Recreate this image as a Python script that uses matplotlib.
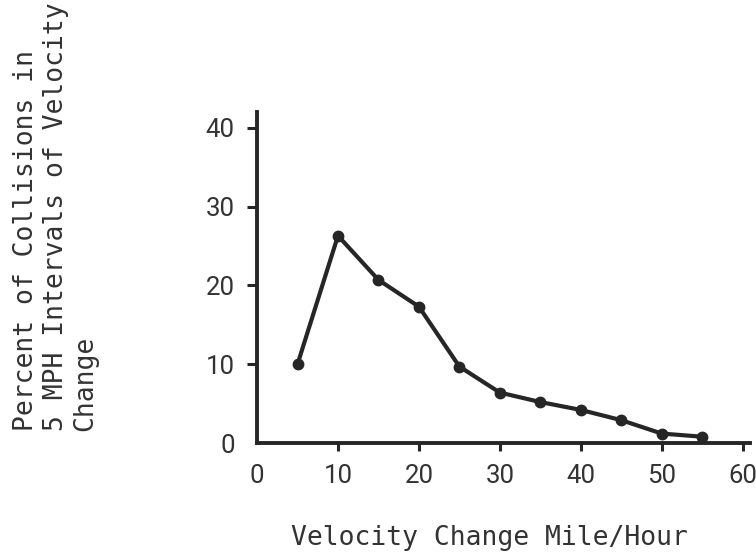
import matplotlib
matplotlib.use("Agg")
import matplotlib.pyplot as plt

# datos
velocidad = [5, 10, 15, 20, 25, 30, 35, 40, 45, 50, 55]
porcentaje = [10.0, 26.3, 20.7, 17.3, 9.7, 6.4, 5.2, 4.2, 2.9, 1.2, 0.8]
x_ticks = [0, 10, 20, 30, 40, 50, 60]
y_ticks = [0, 10, 20, 30, 40]
ylabel_lines = ["Percent of Collisions in", "5 MPH Intervals of Velocity", "Change"]
xlabel = "Velocity Change Mile/Hour"

color = "#262626"

fig = plt.figure(figsize=(7.56, 5.56), dpi=100)
ax = fig.add_axes([0.340, 0.2032, 0.652, 0.5953])

ax.plot(velocidad, porcentaje, color=color, linewidth=3.0, marker="o",
        markersize=7.5, markerfacecolor=color, markeredgecolor=color)

ax.set_xlim(0, 60.9)
ax.set_ylim(0, 42)
ax.set_xticks(x_ticks)
ax.set_yticks(y_ticks)

ax.spines["top"].set_visible(False)
ax.spines["right"].set_visible(False)
for s in ["left", "bottom"]:
    ax.spines[s].set_linewidth(2.8)
    ax.spines[s].set_color(color)

ax.tick_params(axis="x", direction="out", length=6, width=2.2, pad=9,
               colors=color, labelsize=18.5)
ax.tick_params(axis="y", direction="out", length=7, width=2.2, pad=9,
               colors=color, labelsize=18.5)
for lbl in ax.get_xticklabels() + ax.get_yticklabels():
    lbl.set_fontfamily(["Roboto", "DejaVu Sans"])
    lbl.set_color("#333333")

# sin marca en el origen
ax.xaxis.get_major_ticks()[0].tick1line.set_visible(False)
ax.yaxis.get_major_ticks()[0].tick1line.set_visible(False)

# etiquetas de los ejes (tipo maquina de escribir)
mono = ["DejaVu Sans Mono"]
fig.text(0.6468, 0.0198, xlabel, ha="center", va="baseline",
         fontsize=19, family=mono, color="#333333")
for xpos, linea in zip([0.0437, 0.0833, 0.1217], ylabel_lines):
    fig.text(xpos, 0.2248, linea, rotation=90, rotation_mode="anchor",
             ha="left", va="baseline", fontsize=19, family=mono, color="#333333")

fig.savefig("out.png", dpi=100)
